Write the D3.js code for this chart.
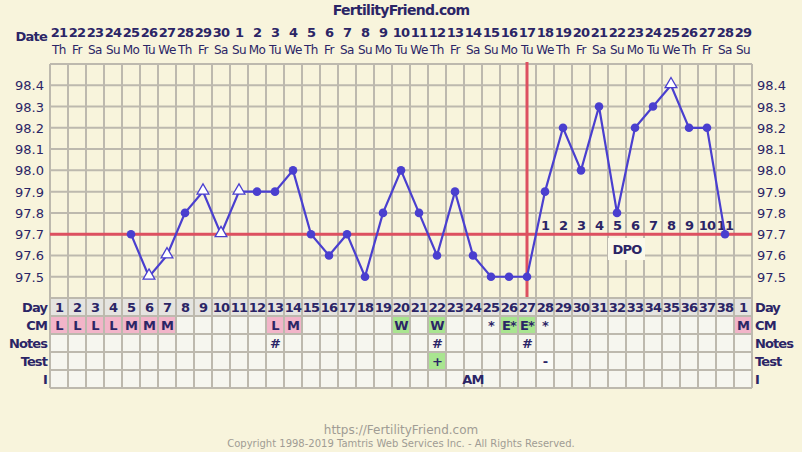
<!DOCTYPE html>
<html><head><meta charset="utf-8">
<script src="https://cdn.jsdelivr.net/npm/d3@7"></script>
<style>
html,body{margin:0;padding:0;background:#f8f4dc;}
svg{display:block;font-family:"DejaVu Sans",sans-serif;}
</style></head>
<body>
<svg id="c" width="802" height="452"></svg>
<script>
const dates = ["21","22","23","24","25","26","27","28","29","30","1","2","3","4","5","6","7","8","9","10","11","12","13","14","15","16","17","18","19","20","21","22","23","24","25","26","27","28","29"];
const weekdays = ["Th","Fr","Sa","Su","Mo","Tu","We","Th","Fr","Sa","Su","Mo","Tu","We","Th","Fr","Sa","Su","Mo","Tu","We","Th","Fr","Sa","Su","Mo","Tu","We","Th","Fr","Sa","Su","Mo","Tu","We","Th","Fr","Sa","Su"];
const cycleDays = ["1","2","3","4","5","6","7","8","9","10","11","12","13","14","15","16","17","18","19","20","21","22","23","24","25","26","27","28","29","30","31","32","33","34","35","36","37","38","1"];
const temps = [null,null,null,null,97.7,97.5,97.6,97.8,97.9,97.7,97.9,97.9,97.9,98.0,97.7,97.6,97.7,97.5,97.8,98.0,97.8,97.6,97.9,97.6,97.5,97.5,97.5,97.9,98.2,98.0,98.3,97.8,98.2,98.3,98.4,98.2,98.2,97.7,null];
const markers = ["","","","","o","t","t","o","t","t","t","o","o","o","o","o","o","o","o","o","o","o","o","o","o","o","o","o","o","o","o","o","o","o","t","o","o","o",""];
const cm = ["L","L","L","L","M","M","M","","","","","","L","M","","","","","","W","","W","","","*","E*","E*","*","","","","","","","","","","","M"];
const notes = ["","","","","","","","","","","","","#","","","","","","","","","#","","","","","#","","","","","","","","","","","",""];
const tests = ["","","","","","","","","","","","","","","","","","","","","","+","","","","","","-","","","","","","","","","","",""];
const intercourse = ["","","","","","","","","","","","","","","","","","","","","","","","AM","","","","","","","","","","","","","","",""];
const dpo = ["","","","","","","","","","","","","","","","","","","","","","","","","","","","1","2","3","4","5","6","7","8","9","10","11",""];
const yTicks = [97.5,97.6,97.7,97.8,97.9,98.0,98.1,98.2,98.3,98.4];
const coverline = 97.7;
const ovulationIndex = 26;

const svg = d3.select("#c");
const ink = "#2b2566";
const gridCol = "#bdb9ae";
const L = 50, R = 752, T = 64, B = 298;
const idx = d3.range(dates.length);
const x = d3.scaleBand().domain(idx).range([L, R]);
const bw = x.bandwidth();
const cx = i => x(i) + bw / 2;
const y = d3.scaleLinear().domain([97.4, 98.5]).range([B, T]);

// title
svg.append("text").attr("x", 401).attr("y", 15).attr("text-anchor", "middle")
  .attr("font-size", 14).attr("font-weight", "bold").attr("fill", ink).attr("letter-spacing", -0.7)
  .text("FertilityFriend.com");

// Date row
svg.append("text").attr("x", 47).attr("y", 41).attr("text-anchor", "end")
  .attr("font-size", 13).attr("font-weight", "bold").attr("fill", ink).attr("letter-spacing", -0.8).text("Date");
svg.append("g").selectAll("text").data(dates).join("text")
  .attr("x", (d, i) => cx(i)).attr("y", 37).attr("text-anchor", "middle")
  .attr("font-size", 13).attr("font-weight", "bold").attr("fill", ink).attr("letter-spacing", -0.8).text(d => d);
svg.append("g").selectAll("text").data(weekdays).join("text")
  .attr("x", (d, i) => cx(i)).attr("y", 54).attr("text-anchor", "middle")
  .attr("font-size", 12).attr("fill", ink).attr("letter-spacing", -0.5).text(d => d);

// grid
const g = svg.append("g");
g.selectAll("line.h").data(d3.range(97.4, 98.55, 0.1).map(v => +v.toFixed(1))).join("line")
  .attr("x1", L).attr("x2", R).attr("y1", d => y(d)).attr("y2", d => y(d))
  .attr("stroke", gridCol).attr("stroke-width", 2);
g.selectAll("line.v").data(d3.range(dates.length + 1)).join("line")
  .attr("x1", d => L + d * bw).attr("x2", d => L + d * bw).attr("y1", T).attr("y2", B)
  .attr("stroke", gridCol).attr("stroke-width", 2);

// y tick labels
[[44, "end"], [757, "start"]].forEach(([xx, anc]) => {
  svg.append("g").selectAll("text").data(yTicks).join("text")
    .attr("x", xx).attr("y", d => y(d) + 5).attr("text-anchor", anc)
    .attr("font-size", 13).attr("fill", ink).text(d => d.toFixed(1));
});

// DPO labels
svg.append("g").selectAll("text").data(dpo).join("text")
  .attr("x", (d, i) => cx(i)).attr("y", 230).attr("text-anchor", "middle")
  .attr("font-size", 13).attr("font-weight", "bold").attr("fill", ink).attr("letter-spacing", -0.8).text(d => d);
svg.append("rect").attr("x", 608).attr("y", 238).attr("width", 37).attr("height", 22).attr("fill", "#fbf9ea");
svg.append("text").attr("x", 627).attr("y", 254).attr("text-anchor", "middle")
  .attr("font-size", 13).attr("font-weight", "bold").attr("fill", ink).attr("letter-spacing", -0.8).text("DPO");

// coverline & ovulation
svg.append("line").attr("x1", L).attr("x2", R).attr("y1", y(coverline)).attr("y2", y(coverline))
  .attr("stroke", "#dd5060").attr("stroke-width", 3);
svg.append("line").attr("x1", cx(ovulationIndex)).attr("x2", cx(ovulationIndex)).attr("y1", T - 2).attr("y2", B)
  .attr("stroke", "#dd5060").attr("stroke-width", 3);

// temperature line
const lineCol = "#4a3fcf";
const line = d3.line().defined(d => d.v != null).x(d => cx(d.i)).y(d => y(d.v));
const pts = temps.map((v, i) => ({ v, i, m: markers[i] }));
svg.append("path").datum(pts).attr("d", line).attr("fill", "none").attr("stroke", lineCol).attr("stroke-width", 2.2);
svg.append("g").selectAll("circle").data(pts.filter(p => p.v != null && p.m === "o")).join("circle")
  .attr("cx", d => cx(d.i)).attr("cy", d => y(d.v)).attr("r", 4.3).attr("fill", lineCol);
const tri = d3.symbol().type(d3.symbolTriangle).size(60);
svg.append("g").selectAll("path").data(pts.filter(p => p.v != null && p.m === "t")).join("path")
  .attr("d", tri).attr("transform", d => `translate(${cx(d.i)},${y(d.v) - 1})`)
  .attr("fill", "#ffffff").attr("stroke", lineCol).attr("stroke-width", 1.3);

// table
const rowsTop = 298, rh = 18;
const rows = [
  { name: "Day", data: cycleDays },
  { name: "CM", data: cm },
  { name: "Notes", data: notes },
  { name: "Test", data: tests },
  { name: "I", data: intercourse }
];
const cellFill = (r, d, i) => {
  if (r === 0) return "#e5e4e0";
  if (r === 1) {
    if (d === "L" || d === "M") return "#f2b5c9";
    if (d === "W" || d === "E*") return "#a9e590";
  }
  if (r === 3 && d === "+") return "#a9e590";
  if (r === 3 && d === "-") return "#fbfbf6";
  return "#f6f6ef";
};
rows.forEach((row, r) => {
  const top = rowsTop + r * rh;
  svg.append("g").selectAll("rect").data(row.data).join("rect")
    .attr("x", (d, i) => x(i)).attr("y", top).attr("width", bw).attr("height", rh)
    .attr("fill", (d, i) => cellFill(r, d, i));
});
const tg = svg.append("g");
tg.selectAll("line.th").data(d3.range(rows.length + 1)).join("line")
  .attr("x1", L).attr("x2", R).attr("y1", d => rowsTop + d * rh).attr("y2", d => rowsTop + d * rh)
  .attr("stroke", gridCol).attr("stroke-width", 2);
tg.selectAll("line.tv").data(d3.range(dates.length + 1)).join("line")
  .attr("x1", d => L + d * bw).attr("x2", d => L + d * bw).attr("y1", rowsTop).attr("y2", rowsTop + rows.length * rh)
  .attr("stroke", gridCol).attr("stroke-width", 2);
rows.forEach((row, r) => {
  const top = rowsTop + r * rh;
  svg.append("g").selectAll("text").data(row.data).join("text")
    .attr("x", (d, i) => cx(i)).attr("y", top + 14).attr("text-anchor", "middle")
    .attr("font-size", 13).attr("font-weight", "bold").attr("fill", ink).attr("letter-spacing", -0.8)
    .text(d => d);
  svg.append("text").attr("x", 47).attr("y", top + 14).attr("text-anchor", "end")
    .attr("font-size", 13).attr("font-weight", "bold").attr("fill", ink).attr("letter-spacing", -0.9).text(row.name);
  svg.append("text").attr("x", 755).attr("y", top + 14).attr("text-anchor", "start")
    .attr("font-size", 13).attr("font-weight", "bold").attr("fill", ink).attr("letter-spacing", -0.9).text(row.name);
});

// footer
svg.append("text").attr("x", 401).attr("y", 434).attr("text-anchor", "middle")
  .attr("font-size", 12).attr("fill", "#a09c94").text("https://FertilityFriend.com");
svg.append("text").attr("x", 401).attr("y", 447).attr("text-anchor", "middle")
  .attr("font-size", 10).attr("fill", "#a09c94").text("Copyright 1998-2019 Tamtris Web Services Inc. - All Rights Reserved.");
</script>
</body></html>
